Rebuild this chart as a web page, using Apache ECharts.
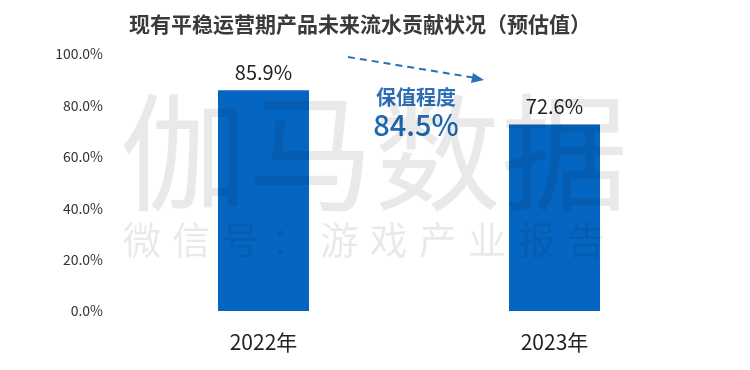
<!DOCTYPE html>
<html><head><meta charset="utf-8">
<script src="https://cdn.jsdelivr.net/npm/echarts@6/dist/echarts.min.js"></script>
<style>html,body{margin:0;padding:0;background:#fff}#c{width:750px;height:370px}</style>
</head><body><div id="c"></div>
<script>
const titleText = '现有平稳运营期产品未来流水贡献状况（预估值）';
const categories = ['2022年', '2023年'];
const values = [85.9, 72.6];
const yTicks = [0, 20, 40, 60, 80, 100];
const retentionLabel = '保值程度';
const retentionValue = '84.5%';
const watermarkMain = '伽马数据';
const watermarkSub = '微信号：游戏产业报告';

const FONT = '"Noto Sans CJK SC", "Noto Sans", sans-serif';
const WM = 'rgba(0,0,0,0.085)';
const graphics = [
  {type: 'text', x: 120, y: 153, z: 100, silent: true,
    style: {text: watermarkMain, font: '127px ' + FONT, fill: WM, verticalAlign: 'middle'}}
];
Array.from(watermarkSub).forEach((ch, i) => {
  graphics.push({type: 'text', x: 142 + i * 49.3, y: 240, z: 100, silent: true,
    style: {text: ch, font: '38px ' + FONT, fill: WM, align: 'center', verticalAlign: 'middle'}});
});
graphics.push(
  {type: 'line', z: 50, shape: {x1: 348, y1: 57, x2: 476, y2: 78},
    style: {stroke: '#2A6FB8', lineWidth: 2, lineDash: [7, 5]}},
  {type: 'polygon', z: 50, shape: {points: [[484, 80], [473, 73], [471, 83]]},
    style: {fill: '#2A6FB8'}},
  {type: 'text', x: 416, y: 97, z: 60,
    style: {text: retentionLabel, font: 'bold 20px ' + FONT, fill: '#2A6FB8', align: 'center', verticalAlign: 'middle'}},
  {type: 'text', x: 416, y: 125, z: 60,
    style: {text: retentionValue, font: '500 29px ' + FONT, fill: '#1F68B3', align: 'center', verticalAlign: 'middle'}}
);

const chart = echarts.init(document.getElementById('c'));
chart.setOption({
  animation: false,
  title: {
    text: titleText, left: 124, top: 9,
    textStyle: {fontFamily: FONT, fontSize: 21, fontWeight: 'bold', color: '#3a3a3a'}
  },
  grid: {left: 118, right: 50, top: 54, bottom: 59},
  xAxis: {
    type: 'category', data: categories,
    axisLine: {show: false}, axisTick: {show: false},
    axisLabel: {fontFamily: FONT, fontSize: 21, color: '#222', margin: 21}
  },
  yAxis: {
    type: 'value', min: yTicks[0], max: yTicks[yTicks.length - 1], interval: 20,
    splitLine: {show: false}, axisLine: {show: false}, axisTick: {show: false},
    axisLabel: {fontFamily: FONT, fontSize: 14, color: '#333', margin: 15,
      formatter: v => v.toFixed(1) + '%'}
  },
  series: [{
    type: 'bar', data: values, barWidth: 91,
    itemStyle: {color: '#0566C2'},
    label: {show: true, position: 'top', distance: 8, fontFamily: FONT, fontSize: 20, color: '#222',
      formatter: p => p.value.toFixed(1) + '%'}
  }],
  graphic: graphics
});
</script></body></html>
